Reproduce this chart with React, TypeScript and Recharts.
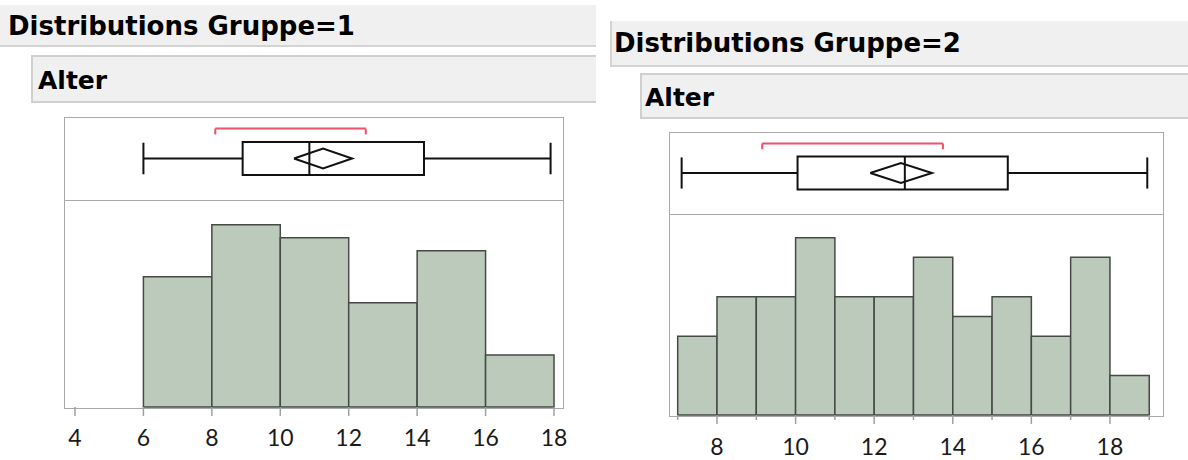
import { ComposedChart, XAxis, YAxis, ReferenceArea, ReferenceLine, Line } from "recharts";

// Gruppe 1 – Alter
const binsG1 = [6, 8, 10, 12, 14, 16, 18];
const countsG1 = [10, 14, 13, 8, 12, 4];
const ticksG1 = [4, 6, 8, 10, 12, 14, 16, 18];
// min, q1, median, q3, max
const boxG1 = [6, 8.9, 10.85, 14.2, 17.9];
// mean, ci low, ci high
const meanG1 = [11.25, 10.4, 12.1];
// shortest half
const shortG1 = [8.1, 12.5];

// Gruppe 2 – Alter
const binsG2 = [7, 8, 9, 10, 11, 12, 13, 14, 15, 16, 17, 18, 19];
const countsG2 = [4, 6, 6, 9, 6, 6, 8, 5, 6, 4, 8, 2];
const ticksG2 = [7, 8, 9, 10, 11, 12, 13, 14, 15, 16, 17, 18, 19];
const boxG2 = [7.1, 10.05, 12.78, 15.4, 18.95];
const meanG2 = [12.68, 11.9, 13.47];
const shortG2 = [9.15, 13.75];

const TICK_FONT = "Lato, 'DejaVu Sans', sans-serif";
const HEAD_FONT = "'DejaVu Sans', Lato, sans-serif";
const BAR_FILL = "#bccabb";
const BAR_STROKE = "#454a45";
const FRAME = "#a9a9a9";

type PanelProps = {
  left: number;
  top: number;
  width: number;
  boxH: number;
  histH: number;
  domain: [number, number];
  yMax: number;
  bins: number[];
  counts: number[];
  ticks: number[];
  box: number[];
  mean: number[];
  short: number[];
  labelDy: number;
  minorTicks: boolean;
};

function Tick(props: any) {
  const { x, y, payload, minor } = props;
  const v = payload.value;
  const isMinor = minor && v % 2 === 1;
  return (
    <g>
      <line x1={x} y1={y} x2={x} y2={y + (isMinor ? 5 : 9)} stroke="#a0a0a0" strokeWidth={1.5} />
      {!isMinor && (
        <text x={x} y={y + props.labelDy} textAnchor="middle" fontFamily={TICK_FONT} fontSize={23} fill="#1a1a1a">
          {v}
        </text>
      )}
    </g>
  );
}

function Panel(p: PanelProps) {
  const [mn, q1, med, q3, mx] = p.box;
  const [m, lo, hi] = p.mean;
  const histData = p.counts.map((c, i) => ({ x: (p.bins[i] + p.bins[i + 1]) / 2, c }));
  const diamond = [
    { x: lo, y: 0.5 },
    { x: m, y: 0.62 },
    { x: hi, y: 0.5 },
    { x: m, y: 0.38 },
    { x: lo, y: 0.5 },
  ];
  return (
    <div style={{ position: "absolute", left: p.left, top: p.top }}>
      <div
        style={{
          position: "absolute",
          left: -1,
          top: 0,
          width: p.width,
          height: p.boxH + p.histH,
          border: `1.5px solid ${FRAME}`,
          boxSizing: "content-box",
        }}
      />
      <div style={{ position: "absolute", left: 0, top: p.boxH, width: p.width, borderTop: `1.5px solid ${FRAME}` }} />
      <div style={{ position: "absolute", left: 0, top: 0 }}>
        <ComposedChart width={p.width} height={p.boxH} data={diamond} margin={{ top: 0, right: 0, bottom: 0, left: 0 }}>
          <XAxis type="number" dataKey="x" domain={p.domain} allowDataOverflow hide />
          <YAxis type="number" domain={[0, 1]} hide />
          {/* shortest half bracket */}
          <ReferenceLine segment={[{ x: p.short[0], y: 0.86 }, { x: p.short[1], y: 0.86 }]} stroke="#f0506a" strokeWidth={2} />
          <ReferenceLine segment={[{ x: p.short[0], y: 0.86 }, { x: p.short[0], y: 0.79 }]} stroke="#f0506a" strokeWidth={2} />
          <ReferenceLine segment={[{ x: p.short[1], y: 0.86 }, { x: p.short[1], y: 0.79 }]} stroke="#f0506a" strokeWidth={2} />
          {/* whiskers */}
          <ReferenceLine segment={[{ x: mn, y: 0.5 }, { x: q1, y: 0.5 }]} stroke="#111" strokeWidth={2} />
          <ReferenceLine segment={[{ x: q3, y: 0.5 }, { x: mx, y: 0.5 }]} stroke="#111" strokeWidth={2} />
          <ReferenceLine segment={[{ x: mn, y: 0.31 }, { x: mn, y: 0.69 }]} stroke="#111" strokeWidth={2} />
          <ReferenceLine segment={[{ x: mx, y: 0.31 }, { x: mx, y: 0.69 }]} stroke="#111" strokeWidth={2} />
          <ReferenceArea x1={q1} x2={q3} y1={0.3} y2={0.7} fill="#fff" fillOpacity={1} stroke="#111" strokeWidth={2} />
          <ReferenceLine segment={[{ x: med, y: 0.3 }, { x: med, y: 0.7 }]} stroke="#111" strokeWidth={2} />
          <Line dataKey="y" stroke="#111" strokeWidth={2} dot={false} isAnimationActive={false} />
        </ComposedChart>
      </div>
      <div style={{ position: "absolute", left: 0, top: p.boxH }}>
        <ComposedChart width={p.width + 30} height={p.histH + 60} data={histData} margin={{ top: 0, right: 30, bottom: 0, left: 0 }}>
          <XAxis
            type="number"
            dataKey="x"
            domain={p.domain}
            allowDataOverflow
            ticks={p.ticks}
            interval={0}
            height={60}
            axisLine={false}
            tickLine={false}
            tickSize={0}
            tickMargin={0}
            tick={<Tick minor={p.minorTicks} labelDy={p.labelDy} />}
          />
          <YAxis type="number" domain={[0, p.yMax]} hide />
          {p.counts.map((c, i) => (
            <ReferenceArea
              key={i}
              x1={p.bins[i]}
              x2={p.bins[i + 1]}
              y1={0}
              y2={c}
              fill={BAR_FILL}
              fillOpacity={1}
              stroke={BAR_STROKE}
              strokeWidth={1.5}
            />
          ))}
          <Line dataKey="c" stroke="none" dot={false} isAnimationActive={false} />
        </ComposedChart>
      </div>
    </div>
  );
}

const headerStyle = {
  position: "absolute" as const,
  background: "#f0f0f0",
  fontFamily: HEAD_FONT,
  fontWeight: 700,
  color: "#000",
  boxSizing: "border-box" as const,
  whiteSpace: "nowrap" as const,
};

export default function App() {
  return (
    <div style={{ position: "absolute", left: 0, top: 0, width: 1188, height: 460, background: "#fff", overflow: "hidden" }}>
      {/* Gruppe 1 */}
      <div style={{ ...headerStyle, left: 0, top: 5, width: 596, height: 42, fontSize: 26, paddingLeft: 8, paddingTop: 1, lineHeight: "40px", borderBottom: "2px solid #d4d4d4" }}>
        Distributions Gruppe=1
      </div>
      <div style={{ ...headerStyle, left: 31, top: 55, width: 565, height: 48, fontSize: 25, paddingLeft: 5, lineHeight: "47px", border: "2px solid #d0d0d0", borderRight: "none" }}>
        Alter
      </div>
      <Panel
        left={65}
        top={117}
        width={498}
        boxH={83}
        histH={207}
        domain={[3.708, 18.263]}
        yMax={15.9}
        bins={binsG1}
        counts={countsG1}
        ticks={ticksG1}
        box={boxG1}
        mean={meanG1}
        short={shortG1}
        labelDy={39}
        minorTicks={false}
      />
      {/* Gruppe 2 */}
      <div style={{ ...headerStyle, left: 610, top: 21, width: 578, height: 46, fontSize: 26, paddingLeft: 2, lineHeight: "44px", border: "2px solid #d4d4d4", borderRight: "none", borderTop: "none" }}>
        Distributions Gruppe=2
      </div>
      <div style={{ ...headerStyle, left: 640, top: 73, width: 548, height: 46, fontSize: 25, paddingLeft: 3, lineHeight: "46px", border: "2px solid #d0d0d0", borderRight: "none" }}>
        Alter
      </div>
      <Panel
        left={670}
        top={132}
        width={493}
        boxH={82}
        histH={201}
        domain={[6.804, 19.35]}
        yMax={10.2}
        bins={binsG2}
        counts={countsG2}
        ticks={ticksG2}
        box={boxG2}
        mean={meanG2}
        short={shortG2}
        labelDy={40}
        minorTicks={true}
      />
    </div>
  );
}
